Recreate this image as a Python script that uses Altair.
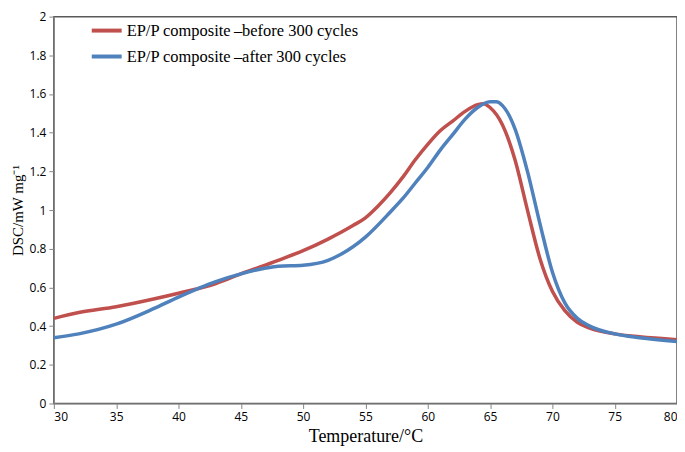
import altair as alt
import pandas as pd

series_names = ["EP/P composite\u2009\u2013before 300 cycles", "EP/P composite\u2009\u2013after 300 cycles"]

before_t = [30, 32, 35, 38, 40, 43, 45, 48, 50, 52, 54, 55, 56, 57, 58, 59, 60, 61, 62, 63, 64, 64.5, 65, 66, 67, 68, 69, 70, 71, 72, 73, 75, 77, 80]
before_v = [0.44, 0.47, 0.50, 0.54, 0.57, 0.62, 0.67, 0.74, 0.79, 0.85, 0.92, 0.96, 1.02, 1.09, 1.17, 1.26, 1.34, 1.41, 1.46, 1.51, 1.545, 1.55, 1.53, 1.44, 1.26, 1.00, 0.75, 0.58, 0.48, 0.42, 0.39, 0.36, 0.345, 0.33]

after_t = [30, 32, 35, 38, 40, 43, 45, 47, 48, 50, 52, 53, 55, 57, 58, 59, 60, 61, 62, 63, 64, 65, 65.5, 66, 67, 68, 69, 70, 71, 72, 73, 75, 77, 80]
after_v = [0.34, 0.36, 0.41, 0.49, 0.55, 0.63, 0.67, 0.70, 0.71, 0.715, 0.74, 0.77, 0.86, 0.99, 1.06, 1.14, 1.22, 1.31, 1.39, 1.47, 1.53, 1.56, 1.56, 1.54, 1.42, 1.20, 0.93, 0.68, 0.52, 0.44, 0.40, 0.36, 0.34, 0.32]

rows = []
for t, v in zip(before_t, before_v):
    rows.append({"T": t, "DSC": v, "series": series_names[0]})
for t, v in zip(after_t, after_v):
    rows.append({"T": t, "DSC": v, "series": series_names[1]})
df = pd.DataFrame(rows)

serif = "Liberation Serif"
sans = "Open Sans"

chart = alt.Chart(df).mark_line(strokeWidth=3.5, interpolate="monotone").encode(
    x=alt.X("T:Q", scale=alt.Scale(domain=[30, 80], nice=False),
            axis=alt.Axis(title="Temperature/\u00b0C", values=list(range(30, 81, 5)),
                          titleFont=serif, titleFontSize=18, titleFontWeight="normal",
                          titleColor="black", titlePadding=5,
                          labelFont=sans, labelFontSize=12, labelColor="black",
                          domainColor="#868686", tickColor="#868686", tickSize=5,
                          grid=False, labelPadding=3)),
    y=alt.Y("DSC:Q", scale=alt.Scale(domain=[0, 2], nice=False),
            axis=alt.Axis(title="DSC/mW mg\u207b\u00b9", values=[round(i * 0.2, 1) for i in range(11)],
                          format="~g",
                          titleFont=serif, titleFontSize=15, titleFontWeight="normal",
                          titleColor="black", titlePadding=4,
                          labelFont=sans, labelFontSize=12, labelColor="black",
                          domainColor="#868686", tickColor="#868686", tickSize=5,
                          grid=False, labelPadding=3)),
    color=alt.Color("series:N",
                    scale=alt.Scale(domain=series_names, range=["#C0504D", "#4F81BD"]),
                    legend=alt.Legend(title=None, orient="none", legendX=36, legendY=-3,
                                      symbolType="stroke", symbolSize=900, symbolStrokeWidth=4,
                                      labelFont=serif, labelFontSize=16.5, labelColor="black",
                                      labelLimit=0, rowPadding=0, labelOffset=3)),
).properties(
    width=625, height=388,
    autosize=alt.AutoSizeParams(type="none"),
    padding={"left": 46, "top": 8, "right": 0, "bottom": 46},
).configure_view(stroke="#595959", strokeWidth=1.5)

chart.save("out.html", embed_options={"renderer": "svg", "actions": False})
